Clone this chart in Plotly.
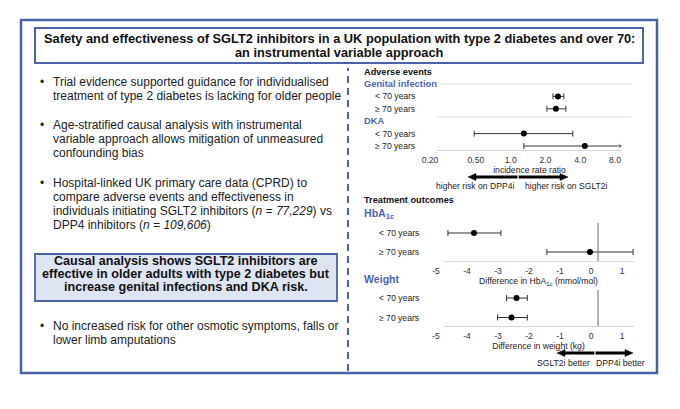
import math
import plotly.graph_objects as go

# ---------------- data ----------------
title_lines = ["Safety and effectiveness of SGLT2 inhibitors in a UK population with type 2 diabetes and over 70:",
               "an instrumental variable approach"]
age_groups = ["< 70 years", "\u2265 70 years"]
ae_groups = ["Genital infection", "DKA"]
# incidence rate ratios (SGLT2i vs DPP4i), order: GI<70, GI>=70, DKA<70, DKA>=70
ae_irr = [2.23, 2.14, 1.13, 3.81]
ae_lo = [2.02, 1.79, 0.42, 1.13]
ae_hi = [2.51, 2.61, 3.00, 12.0]
ae_ticks = [0.2, 0.5, 1, 2, 4, 8]
ae_ticktext = ["0.20", "0.50", "1.0", "2.0", "4.0", "8.0"]
ae_xmin, ae_xmax = 0.2, 8.0

hba1c_diff = [-4.00, -0.26]
hba1c_lo = [-4.84, -1.65]
hba1c_hi = [-3.13, 1.13]
weight_diff = [-2.63, -2.79]
weight_lo = [-2.95, -3.24]
weight_hi = [-2.28, -2.28]
diff_ticks = [-5, -4, -3, -2, -1, 0, 1]
diff_ticktext = ["-5", "-4", "-3", "-2", "-1", "0", "1"]
diff_xmin, diff_xmax = -5.0, 1.16

bullets = [
    ["Trial evidence supported guidance for individualised",
     "treatment of type 2 diabetes is lacking for older people"],
    ["Age-stratified causal analysis with instrumental",
     "variable approach allows mitigation of unmeasured",
     "confounding bias"],
    ["Hospital-linked UK primary care data (CPRD) to",
     "compare adverse events and effectiveness in",
     "individuals initiating SGLT2 inhibitors (<i>n = 77,229</i>) vs",
     "DPP4 inhibitors (<i>n = 109,606</i>)"],
]
key_message = ["Causal analysis shows SGLT2 inhibitors are",
               "effective in older adults with type 2 diabetes but",
               "increase genital infections and DKA risk."]
last_bullet = ["No increased risk for other osmotic symptoms, falls or",
               "lower limb amputations"]

# ---------------- layout helpers ----------------
W, H = 680, 409
FONT = "Liberation Sans, Arial, sans-serif"
BLUE = "#4a63a7"
HEAD_BLUE = "#4a66ad"
DARK = "#222222"
SMALL = 8.6


def px(x):
    return x / W


def py(y):
    return 1 - y / H


fig = go.Figure()
annotations = []
shapes = []


def text(x, y, s, size=12, color=DARK, bold=False, xanchor="left", yref="paper", yval=None):
    if bold:
        s = "<b>" + s + "</b>"
    annotations.append(dict(x=px(x), y=py(y) if yval is None else yval, xref="paper", yref=yref,
                            text=s, showarrow=False, xanchor=xanchor, yanchor="middle",
                            font=dict(family=FONT, size=size, color=color)))


# ---------------- adverse events panel ----------------
ae_rows = [1, 2, 4, 5]          # row index (0 and 3 are group headers)
err_col = "#333333"
fin_idx = [i for i in range(4) if ae_hi[i] <= ae_xmax]
inf_idx = [i for i in range(4) if ae_hi[i] > ae_xmax]
fig.add_trace(go.Scatter(
    x=[ae_irr[i] for i in fin_idx], y=[ae_rows[i] for i in fin_idx], mode="markers",
    marker=dict(color="black", size=6),
    error_x=dict(type="data", symmetric=False,
                 array=[ae_hi[i] - ae_irr[i] for i in fin_idx],
                 arrayminus=[ae_irr[i] - ae_lo[i] for i in fin_idx],
                 color=err_col, thickness=1, width=3),
    xaxis="x", yaxis="y", hoverinfo="skip"))
for i in inf_idx:
    fig.add_trace(go.Scatter(
        x=[ae_irr[i], ae_xmax], y=[ae_rows[i], ae_rows[i]], mode="lines+markers",
        line=dict(color=err_col, width=1),
        marker=dict(symbol="arrow-wide", angle=90, size=[0, 7], color=err_col),
        xaxis="x", yaxis="y", hoverinfo="skip", cliponaxis=False))
    fig.add_trace(go.Scatter(
        x=[ae_irr[i]], y=[ae_rows[i]], mode="markers",
        marker=dict(color="black", size=6),
        error_x=dict(type="data", symmetric=False, array=[0], arrayminus=[ae_irr[i] - ae_lo[i]],
                     color=err_col, thickness=1, width=3),
        xaxis="x", yaxis="y", hoverinfo="skip"))

# ---------------- HbA1c panel ----------------
fig.add_trace(go.Scatter(
    x=hba1c_diff, y=[0, 1], mode="markers", marker=dict(color="black", size=6),
    error_x=dict(type="data", symmetric=False,
                 array=[h - d for h, d in zip(hba1c_hi, hba1c_diff)],
                 arrayminus=[d - l for d, l in zip(hba1c_diff, hba1c_lo)],
                 color=err_col, thickness=1, width=3),
    xaxis="x2", yaxis="y2", hoverinfo="skip"))

# ---------------- weight panel ----------------
fig.add_trace(go.Scatter(
    x=weight_diff, y=[0, 1], mode="markers", marker=dict(color="black", size=6),
    error_x=dict(type="data", symmetric=False,
                 array=[h - d for h, d in zip(weight_hi, weight_diff)],
                 arrayminus=[d - l for d, l in zip(weight_diff, weight_lo)],
                 color=err_col, thickness=1, width=3),
    xaxis="x3", yaxis="y3", hoverinfo="skip"))

# row separators in the adverse-events panel
for yv in (0, 2.65):
    shapes.append(dict(type="line", xref="x domain", yref="y", x0=0, x1=1.05, y0=yv, y1=yv,
                       line=dict(color="#dedede", width=1), layer="below"))

# reference lines
shapes.append(dict(type="line", xref="x", yref="y domain", x0=0, x1=0, y0=0, y1=0.86,
                   line=dict(color="#b3b3b3", width=1.5)))
shapes.append(dict(type="line", xref="x2", yref="y2 domain", x0=0, x1=0, y0=0, y1=1,
                   line=dict(color="#8a8a8a", width=1.3)))
shapes.append(dict(type="line", xref="x3", yref="y3 domain", x0=0, x1=0, y0=0, y1=1,
                   line=dict(color="#8a8a8a", width=1.3)))

# ---------------- frames ----------------
shapes.append(dict(type="rect", xref="paper", yref="paper", x0=px(21), x1=px(657), y0=py(373), y1=py(20),
                   line=dict(color=BLUE, width=2.5), layer="below"))
shapes.append(dict(type="rect", xref="paper", yref="paper", x0=px(35), x1=px(643), y0=py(63), y1=py(28),
                   line=dict(color=BLUE, width=2), layer="below"))
shapes.append(dict(type="rect", xref="paper", yref="paper", x0=px(35), x1=px(337), y0=py(301), y1=py(254),
                   line=dict(color=BLUE, width=1.8), fillcolor="#dfe4f3", layer="below"))
shapes.append(dict(type="line", xref="paper", yref="paper", x0=px(348), x1=px(348), y0=py(371), y1=py(68),
                   line=dict(color=BLUE, width=2, dash="7px,5px")))

# direction double arrows (decorations)
for (xc, xl, xr, yy) in [(518, 468, 568, 177), (595, 557, 633, 353)]:
    shapes.append(dict(type="line", xref="paper", yref="paper", x0=px(xl + 5), x1=px(xr - 5),
                       y0=py(yy), y1=py(yy), line=dict(color="black", width=3)))
    for tip, d in ((xl, 1), (xr, -1)):
        path = "M {} {} L {} {} L {} {} Z".format(px(tip), py(yy), px(tip + 8 * d), py(yy - 3.5),
                                                  px(tip + 8 * d), py(yy + 3.5))
        shapes.append(dict(type="path", xref="paper", yref="paper", path=path,
                           fillcolor="black", line=dict(color="black", width=0.5)))
    shapes.append(dict(type="line", xref="paper", yref="paper", x0=px(xc), x1=px(xc),
                       y0=py(yy - 2), y1=py(yy + 2), line=dict(color="white", width=1.2)))

# ---------------- texts ----------------
text(339, 38.5, title_lines[0], size=12.8, color="#111", bold=True, xanchor="center")
text(339, 52.5, title_lines[1], size=12.8, color="#111", bold=True, xanchor="center")

line_y = [[82, 96], [125, 139, 153], [183, 197, 211, 225]]
for blines, ys in zip(bullets, line_y):
    text(38, ys[0], "\u2022", size=12)
    for s, yy in zip(blines, ys):
        text(51, yy, s, size=12)
for s, yy in zip(key_message, [261, 274, 287]):
    text(186, yy, s, size=12.6, color="#111", bold=True, xanchor="center")
text(38, 326, "\u2022", size=12)
for s, yy in zip(last_bullet, [326, 340]):
    text(51, yy, s, size=12)

# right panel headers / labels
text(362, 72, "Adverse events", size=9.2, color="#111", bold=True)
for g, r in zip(ae_groups, [0, 3]):
    text(362, 0, g, size=9.3, color=HEAD_BLUE, bold=True, yref="y", yval=r)
for k, r in enumerate(ae_rows):
    text(373, 0, age_groups[k % 2], size=SMALL, yref="y", yval=r)
text(475, 186, "higher risk on DPP4i", size=SMALL, xanchor="center")
text(566, 186, "higher risk on SGLT2i", size=SMALL, xanchor="center")

text(362, 200, "Treatment outcomes", size=9.2, color="#111", bold=True)
text(362, 214, "HbA<sub>1c</sub>", size=10.6, color=HEAD_BLUE, bold=True)
for k in range(2):
    text(377, 0, age_groups[k], size=SMALL, yref="y2", yval=k)

text(362, 279, "Weight", size=10.6, color=HEAD_BLUE, bold=True)
for k in range(2):
    text(377, 0, age_groups[k], size=SMALL, yref="y3", yval=k)
text(563, 363, "SGLT2i better", size=SMALL, xanchor="center")
text(620, 363, "DPP4i better", size=SMALL, xanchor="center")

title_font = dict(family=FONT, size=SMALL, color=DARK)
axis_common = dict(showgrid=False, zeroline=False, ticks="", showline=True, automargin=False,
                   tickfont=dict(family=FONT, size=SMALL, color="#333"), ticklabelshift=-7,
                   ticklabelstandoff=2, fixedrange=True)
hidden_y = dict(visible=False, fixedrange=True, automargin=False, showgrid=False, zeroline=False)
fig.update_layout(
    width=W, height=H, margin=dict(l=0, r=0, t=0, b=0, pad=0, autoexpand=False),
    paper_bgcolor="white", plot_bgcolor="rgba(0,0,0,0)", showlegend=False,
    xaxis=dict(domain=[px(437), px(622)], type="log",
               range=[math.log10(ae_xmin), math.log10(ae_xmax)],
               tickvals=ae_ticks, ticktext=ae_ticktext, linecolor="#d4d4d4", linewidth=1,
               title=dict(text="incidence rate ratio" + "\u00a0" * 13, font=title_font, standoff=1),
               anchor="y", **axis_common),
    yaxis=dict(domain=[py(150), py(80)], range=[5.32, -0.32], anchor="x", **hidden_y),
    xaxis2=dict(domain=[px(443), px(634)], range=[diff_xmin, diff_xmax],
                tickvals=diff_ticks, ticktext=diff_ticktext, linecolor="#d8d8d8", linewidth=1,
                title=dict(text="Difference in HbA<sub>1c</sub> (mmol/mol)", font=title_font, standoff=2),
                anchor="y2", **axis_common),
    yaxis2=dict(domain=[py(261), py(223)], range=[1.474, -0.526], anchor="x2", **hidden_y),
    xaxis3=dict(domain=[px(443), px(634)], range=[diff_xmin, diff_xmax],
                tickvals=diff_ticks, ticktext=diff_ticktext, linecolor="#d8d8d8", linewidth=1,
                title=dict(text="Difference in weight (kg)", font=title_font, standoff=1),
                anchor="y3", **axis_common),
    yaxis3=dict(domain=[py(326), py(290)], range=[1.436, -0.41], anchor="x3", **hidden_y),
    annotations=annotations, shapes=shapes,
)

fig.write_html("out.html", config={"displayModeBar": False},
               post_script="document.body.style.margin='0';document.body.style.overflow='hidden';")
